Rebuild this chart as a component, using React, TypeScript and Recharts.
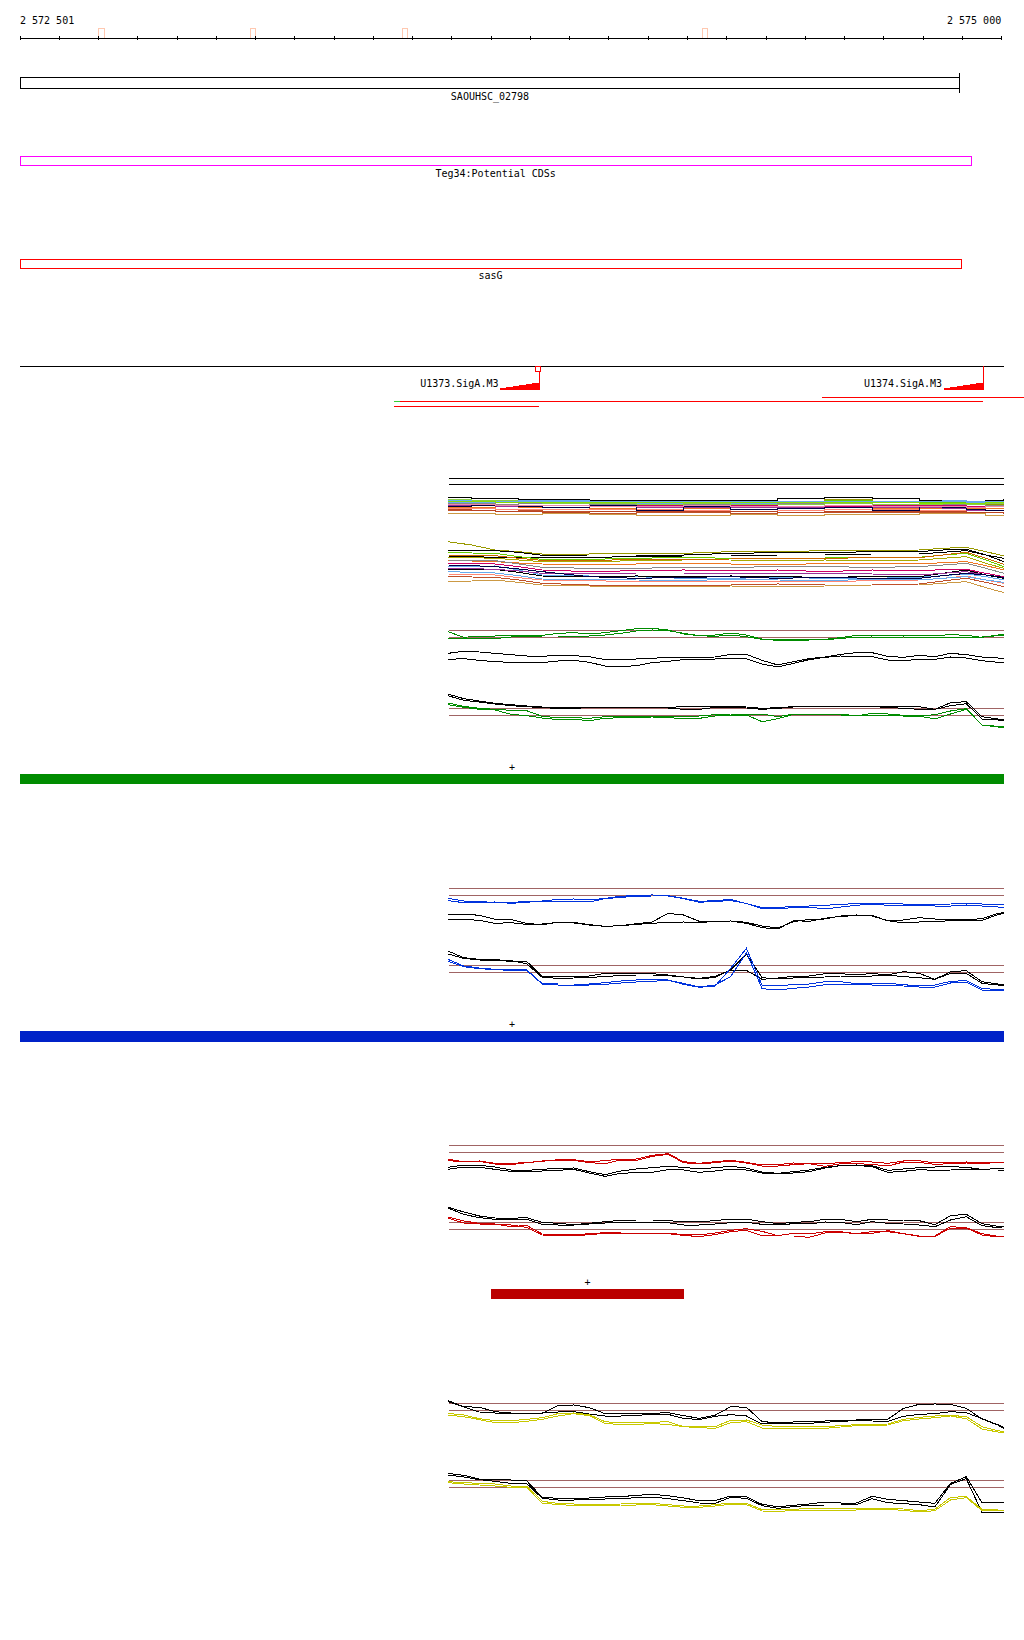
import React from 'react';
import {
  ComposedChart,
  BarChart,
  Bar,
  Line,
  Scatter,
  XAxis,
  YAxis,
  ReferenceLine,
  ReferenceArea,
  LabelList,
} from 'recharts';

// ---------- shared scale ----------
const DOMAIN: [number, number] = [2572500, 2575057];
const W = 1024;
const FONT = "'DejaVu Sans Mono', monospace";
const BROWN = '#a06464';
const MARGIN = { top: 0, right: 0, bottom: 0, left: 20 };

// ---------- ruler ----------
const rulerTicks = [
  2572500, 2572600, 2572700, 2572800, 2572900, 2573000, 2573100, 2573200, 2573300,
  2573400, 2573500, 2573600, 2573700, 2573800, 2573900, 2574000, 2574100, 2574200,
  2574300, 2574400, 2574500, 2574600, 2574700, 2574800, 2574900, 2575000,
];
const rulerStartLabel = '2 572 501';
const rulerEndLabel = '2 575 000';
const rulerStart = 2572500;
const rulerEnd = 2575000;
const markerStarts = [2572701, 2573086, 2573473, 2574237];
const markerEnds = [2572714, 2573101, 2573486, 2574252];

// ---------- annotation features ----------
const featureNames = ['SAOUHSC_02798', 'Teg34:Potential CDSs', 'sasG'];
const featureStarts = [2572500, 2572500, 2572500];
const featureEnds = [2574894, 2574923, 2574897];

// ---------- promoter (TSS) track ----------
const tssNames = ['U1373.SigA.M3', 'U1374.SigA.M3'];
const tssPos = [2573823, 2574953];
const tssSelected = [true, false];
const trackLineRow = 6;
const trackLineStart = 2572500;
const trackLineEnd = 2575006;
const motifSegStarts = [2574543, 2573452, 2573452];
const motifSegEnds = [2575057, 2574953, 2573823];
const motifSegRows = [37, 41, 46];
const motifGreenStart = 2573452;
const motifGreenEnd = 2573468;

// ---------- expression segments (bars) ----------
const segLabels = ['+', '+', '+'];
const segStarts = [2572500, 2572500, 2573700];
const segEnds = [2575006, 2575006, 2574191];

// ---------- signal panels ----------
const PANEL_START = 2573593;
const PANEL_END = 2575006;
const panelPos = [
  2573590, 2573630, 2573670, 2573710, 2573750, 2573790, 2573830, 2573870, 2573910,
  2573950, 2573990, 2574030, 2574070, 2574110, 2574150, 2574190, 2574230, 2574270,
  2574310, 2574350, 2574390, 2574430, 2574470, 2574510, 2574550, 2574590, 2574630,
  2574670, 2574710, 2574750, 2574790, 2574830, 2574870, 2574910, 2574950, 2574990,
  2575006,
];

// green condition
const greenFwdA = [127,110,114,114,115,116,116,122,124,120,124,130,136,137,132,120,115,117,123,117,105,102,104,104,104,109,116,116,114,116,116,115,118,116,110,117,119];
const greenFwdB = [107,107,107,106,111,113,114,114,114,114,117,122,129,132,130,122,115,113,117,112,104,101,101,102,102,107,110,111,108,111,109,109,110,108,111,115,116];
const greenFwdRefA = [62,68,66,62,58,54,53,56,55,52,43,42,45,47,50,50,50,51,59,59,41,27,37,46,51,59,64,64,53,50,56,52,62,58,51,48,47];
const greenFwdRefB = [44,46,41,37,35,34,34,39,41,35,24,22,25,34,38,43,43,45,47,46,30,21,32,43,50,54,53,52,42,40,44,44,51,48,40,35,34];
const greenRevRefA = [108,94,87,80,76,72,69,68,68,68,68,68,68,68,68,70,70,70,70,69,65,67,70,70,70,70,71,71,70,70,70,62,82,85,40,33,32];
const greenRevRefB = [103,89,84,78,73,70,67,65,64,68,68,68,68,68,66,62,62,68,68,66,62,65,69,70,70,70,70,70,68,65,62,62,73,79,33,30,30];
const greenRevA = [81,71,65,62,59,58,41,37,37,35,40,40,40,40,40,39,42,46,48,48,48,40,48,48,48,48,42,50,48,44,42,46,57,64,15,11,10];
const greenRevB = [76,68,62,60,47,43,36,31,32,28,35,37,38,39,38,33,35,42,43,45,25,34,47,46,45,45,42,45,45,42,42,33,48,62,15,9,8];

// blue condition
const blueFwdA = [110,102,100,98,98,100,102,107,108,105,110,116,119,120,118,110,101,103,107,94,82,83,85,87,89,92,94,95,95,93,93,92,93,95,93,91,90];
const blueFwdB = [103,97,98,99,95,98,102,102,101,99,109,113,116,117,117,109,98,101,103,95,79,79,82,84,78,84,89,93,89,89,89,87,87,90,87,84,83];
const blueFwdRefA = [63,63,59,47,47,35,31,38,38,31,26,28,34,39,65,60,41,42,42,38,27,21,40,47,48,57,60,59,42,45,52,48,46,46,49,65,67];
const blueFwdRefB = [47,47,44,35,37,32,33,38,36,30,26,28,32,35,38,39,37,41,42,35,22,18,43,41,50,56,58,57,43,36,39,40,43,44,44,61,65];
const blueRevRefA = [132,112,107,107,100,101,56,55,55,57,65,63,64,64,60,54,50,56,75,74,47,51,56,57,64,64,60,65,60,70,65,47,70,73,40,33,33];
const blueRevRefB = [123,110,105,103,103,94,53,50,51,53,55,59,60,60,58,54,48,53,75,123,52,48,51,53,54,57,57,57,60,55,52,47,65,65,35,30,30];
const blueRevA = [107,87,81,77,76,76,34,33,33,33,37,42,45,46,45,32,23,27,80,140,29,28,31,33,40,40,34,34,35,31,27,30,41,43,19,17,17];
const blueRevB = [101,85,79,76,74,74,33,30,30,30,32,36,39,41,44,35,24,30,55,127,19,15,20,24,31,32,32,30,28,27,24,24,36,39,15,15,15];

// red condition
const redFwdA = [62,55,57,50,50,52,56,61,61,55,58,63,63,74,79,55,50,55,59,53,45,46,51,49,49,52,55,54,50,57,58,51,53,54,52,54,54];
const redFwdB = [58,55,56,48,46,52,57,59,59,52,49,60,59,71,77,52,48,52,57,51,42,42,46,49,41,49,49,47,42,54,53,47,49,51,50,52,52];
const redFwdRefA = [38,45,44,39,30,29,32,35,36,25,16,27,33,37,41,38,33,37,41,36,24,20,25,30,38,43,45,43,29,33,37,39,40,38,32,34,35];
const redFwdRefB = [32,39,38,32,26,24,27,29,32,21,11,20,22,23,31,30,23,27,33,30,21,18,21,25,36,43,44,40,23,26,31,29,30,31,30,30,30];
const redRevRefA = [114,99,87,81,80,82,68,65,61,65,70,74,75,75,73,70,70,73,78,78,70,64,68,70,77,77,70,77,75,75,73,61,88,92,64,56,57];
const redRevRefB = [111,92,82,77,75,77,62,60,60,63,66,67,67,68,67,60,60,63,67,68,62,60,64,63,69,68,61,70,65,63,60,55,75,85,58,52,55];
const redRevA = [84,72,65,63,55,59,33,32,30,34,37,36,35,36,36,31,30,36,44,49,41,28,35,33,40,40,34,40,40,34,27,27,55,52,34,26,27];
const redRevB = [81,66,63,61,60,53,30,29,27,31,35,35,35,35,34,29,25,31,40,44,28,27,27,23,36,37,35,35,43,34,26,26,50,51,30,24,25];

// yellow condition
const yellowFwdRefA = [118,100,98,85,81,80,80,103,105,97,79,78,79,80,82,73,65,74,100,98,55,52,54,55,57,59,60,61,62,95,107,108,107,95,63,45,35];
const yellowFwdRefB = [115,99,84,81,79,79,81,84,85,78,72,72,74,77,77,65,61,71,76,72,48,49,49,50,53,56,58,57,56,71,77,79,85,82,64,46,38];
const yellowFwdA = [80,75,64,58,58,62,67,79,81,76,55,51,52,53,55,40,40,40,59,60,45,40,40,40,40,43,46,47,48,62,68,72,74,70,40,28,25];
const yellowFwdB = [75,70,61,52,52,56,62,72,79,73,50,46,47,49,47,40,37,35,52,55,36,33,34,35,35,39,43,44,45,58,63,67,72,64,33,24,22];
const yellowRevRefA = [125,119,108,106,105,103,53,50,50,51,54,55,59,62,58,51,43,43,57,55,32,25,29,33,39,36,36,56,47,43,39,35,95,115,37,37,37];
const yellowRevRefB = [120,114,106,101,95,95,50,45,45,46,48,49,52,54,49,43,36,35,53,50,28,20,25,29,30,30,31,49,37,34,31,24,92,109,8,8,8];
const yellowRevA = [100,97,95,93,87,87,41,35,33,30,31,33,34,35,31,27,27,31,36,35,16,15,17,20,20,20,20,20,20,18,13,17,53,55,17,15,15];
const yellowRevB = [97,93,90,87,83,83,36,31,29,27,28,30,30,31,27,23,23,27,32,31,12,11,13,15,15,15,15,16,17,14,9,13,45,52,13,12,12];

// thresholds per sub-panel
const greenFwdThr = [131, 110];
const greenRevThr = [64, 44];
const blueFwdThr = [140, 119];
const blueRevThr = [89, 68];
const redFwdThr = [104, 83];
const redRevThr = [68, 47];
const yellowFwdThr = [110, 89];
const yellowRevThr = [104, 83];

// ---------- multi-sample bands ----------
const bandPos = [
  2573590, 2573650, 2573710, 2573770, 2573830, 2573950, 2574070, 2574190, 2574310,
  2574430, 2574550, 2574670, 2574790, 2574850, 2574910, 2574960, 2575006,
];
const bandUpperThr = [125, 107];
const bandUpper = [
  [68,66,65,62,62,60,60,60,60,64,67,64,60,60,57,60,64],
  [60,58,57,57,57,54,52,55,56,57,60,57,54,54,52,54,56],
  [56,58,60,56,53,51,53,51,49,53,63,54,51,50,48,47,46],
  [53,54,55,56,56,51,49,51,51,49,51,53,55,55,54,53,51],
  [49,47,46,45,45,44,43,45,43,42,41,43,44,43,41,42,43],
  [38,39,40,39,38,36,38,36,38,36,38,36,35,35,36,34,33],
  [28,29,31,28,26,21,22,22,21,22,23,24,22,23,24,22,21],
  [35,34,33,33,32,31,32,29,31,29,33,31,29,30,31,30,29],
  [44,43,41,40,39,41,37,39,37,39,37,39,37,34,29,29,29],
  [20,19,17,18,19,17,15,15,17,15,17,18,20,20,20,15,13],
  [42,45,48,42,38,45,28,42,32,36,38,30,42,38,32,30,28],
  [50,49,48,49,50,46,48,46,47,50,54,46,48,47,46,45,44],
  [62,60,59,54,50,49,48,51,47,48,49,47,48,50,46,50,52],
  [31,30,26,25,24,26,27,25,26,24,26,27,26,25,24,23,18],
  [47,46,44,45,43,41,42,43,42,41,44,42,41,40,39,40,38],
  [58,57,56,58,58,55,56,57,55,56,55,56,57,58,56,55,54],
  [55,56,54,53,52,53,54,52,53,54,52,53,51,50,51,52,55],
];
const bandLower = [
  [160,150,135,130,123,123,125,125,130,130,133,133,135,140,143,130,117],
  [135,135,133,128,119,120,120,120,125,127,127,130,130,135,137,120,100],
  [117,115,113,113,113,113,115,117,117,120,120,123,123,128,133,120,110],
  [127,126,125,115,107,107,110,113,110,110,111,113,113,120,125,105,85],
  [113,112,110,105,100,100,103,105,105,103,105,103,105,110,115,95,80],
  [103,102,100,96,93,90,93,95,93,90,95,95,93,97,100,88,75],
  [95,94,93,85,75,70,73,75,73,75,70,75,73,76,77,65,55],
  [85,86,87,75,60,57,55,50,50,53,50,50,53,58,63,55,45],
  [75,76,77,68,57,55,57,55,57,55,53,55,55,65,75,60,50],
  [80,79,77,72,65,65,63,63,65,63,65,63,60,65,70,60,53],
  [55,54,53,45,35,30,30,30,30,33,30,30,33,42,50,38,25],
  [40,42,45,38,30,27,25,25,27,25,27,30,30,35,40,22,7],
  [63,62,60,52,45,43,40,40,40,40,40,43,45,50,57,45,35],
  [90,88,85,78,70,55,50,53,55,50,53,50,50,58,65,60,53],
  [105,104,103,93,83,80,80,83,83,85,85,83,85,90,95,80,65],
  [70,68,66,58,48,46,45,44,46,45,44,46,45,50,55,45,38],
  [120,119,118,110,104,104,106,107,108,110,110,112,112,120,128,110,92],
];
const bandUpperColors = ['#000000','#66cc00','#999900','#66aaee','#cc0066','#ee7722','#c0502a','#ff8877','#993399','#cc9944','#000044','#888888','#88cc44','#bb4422','#ee88aa','#66aaee','#88dd00'];
const bandLowerColors = ['#999900','#000000','#000000','#66cc00','#aaaa00','#ee7722','#cc0066','#66aaee','#000000','#993399','#c0502a','#cc9944','#ff8877','#000044','#888888','#66aaee','#cc6600'];

// ---------- components ----------
type Series = { values: number[]; color: string };

function Abs({ top, height, children }: { top: number; height: number; children: React.ReactNode }) {
  return <div style={{ position: 'absolute', left: 0, top, width: W, height }}>{children}</div>;
}

function SignalChart({ top, height, max, pos, series, refs, refColor, curve = 'linear' }: {
  top: number; height: number; max: number; pos: number[]; series: Series[]; refs: number[]; refColor: string; curve?: any;
}) {
  const rows = pos.map((p, i) => {
    const r: Record<string, number> = { pos: p };
    series.forEach((s, k) => { r['s' + k] = s.values[i]; });
    return r;
  });
  return (
    <Abs top={top} height={height}>
      <ComposedChart width={W} height={height} data={rows} margin={MARGIN}>
        <XAxis type="number" dataKey="pos" domain={DOMAIN} hide />
        <YAxis type="number" domain={[0, max]} hide />
        {refs.map((v, k) => (
          <ReferenceLine key={'r' + k} segment={[{ x: PANEL_START, y: v }, { x: PANEL_END, y: v }]} stroke={refColor} strokeWidth={1} ifOverflow="visible" />
        ))}
        {series.map((s, k) => (
          <Line key={k} type={curve} dataKey={'s' + k} stroke={s.color} strokeWidth={1} dot={false} activeDot={false} isAnimationActive={false} />
        ))}
      </ComposedChart>
    </Abs>
  );
}

function RangeTrack({ top, barHeight, start, end, name, fill, stroke, endTick, labelBelow, labelAbove }: {
  top: number; barHeight: number; start: number; end: number; name: string; fill: string; stroke?: string;
  endTick?: boolean; labelBelow?: boolean; labelAbove?: boolean;
}) {
  const mt = labelAbove ? 13 : 6;
  const mb = 20;
  const h = barHeight + mt + mb;
  const data = [{ cat: 'a', range: [start, end], name }];
  const shape = (p: any) => (
    <g>
      <rect x={p.x} y={p.y} width={p.width} height={p.height} fill={fill} stroke={stroke || 'none'} strokeWidth={1} />
      {endTick ? <line x1={p.x + p.width} x2={p.x + p.width} y1={p.y - 4} y2={p.y + p.height + 4} stroke={stroke} strokeWidth={1} /> : null}
    </g>
  );
  const labelContent = (p: any) => {
    const cx = p.x + p.width / 2;
    const y = labelAbove ? p.y - 3 : p.y + p.height + 11;
    return (
      <text x={cx} y={y} textAnchor="middle" fontFamily={FONT} fontSize={10} fill="#000">{p.value}</text>
    );
  };
  return (
    <Abs top={top - mt} height={h}>
      <BarChart width={W} height={h} data={data} layout="vertical" barCategoryGap={0} margin={{ top: mt, right: 0, bottom: mb, left: 20 }}>
        <XAxis type="number" domain={DOMAIN} hide />
        <YAxis type="category" dataKey="cat" hide />
        <Bar dataKey="range" barSize={barHeight} shape={shape} isAnimationActive={false}>
          {(labelBelow || labelAbove) ? <LabelList dataKey="name" content={labelContent} /> : null}
        </Bar>
      </BarChart>
    </Abs>
  );
}

const RulerTickShape = (p: any) => (
  <line x1={p.cx} x2={p.cx} y1={p.cy - 2} y2={p.cy + 2} stroke="#000" strokeWidth={1} />
);

const TssGlyph = (p: any) => {
  const { cx, cy, payload } = p;
  const base = cy + 23;
  let d = `M ${cx - 39} ${base}`;
  for (let k = 0; k < 6; k++) {
    const x0 = cx - 39 + k * 6.5;
    d += ` L ${x0} ${base - (k + 1)} L ${x0 + 6.5} ${base - (k + 1)}`;
  }
  d += ` L ${cx} ${base} Z`;
  return (
    <g>
      <path d={d} fill="#ff0000" stroke="#ff0000" strokeWidth={1} />
      <line x1={cx} x2={cx} y1={cy} y2={base} stroke="#ff0000" strokeWidth={1} />
      {payload.selected ? <rect x={cx - 4} y={cy} width={5} height={5} fill="#fff" stroke="#ff0000" strokeWidth={1} /> : null}
      <text x={cx - 41} y={cy + 21} textAnchor="end" fontFamily={FONT} fontSize={10} fill="#000">{payload.name}</text>
    </g>
  );
};

const textStyle: React.CSSProperties = {
  position: 'absolute', fontFamily: FONT, fontSize: 10, lineHeight: '12px', color: '#000', whiteSpace: 'pre',
};

export default function App() {
  const tssData = tssNames.map((n, i) => ({ pos: tssPos[i], row: trackLineRow, name: n, selected: tssSelected[i] }));
  const tickData = rulerTicks.map((t) => ({ pos: t, v: 0 }));
  const featureColors = ['#000000', '#ff00ff', '#ff0000'];
  const featureTops = [76, 155, 258];
  const featureHeights = [13, 11, 10];
  const segColors = ['#008c00', '#0022c8', '#bb0000'];
  const segTops = [773, 1030, 1288];
  const segHeights = [11, 12, 11];

  const mk = (vals: number[], color: string): Series => ({ values: vals, color });
  const GREEN = '#008c00';
  const BLUE = '#0033dd';
  const RED = '#cc0000';
  const YEL = '#c8c800';
  const BLK = '#000000';

  return (
    <div style={{ position: 'absolute', left: 0, top: 0, width: W, height: 1640, background: '#fff', overflow: 'hidden' }}>
      <style>{'.recharts-surface path, .recharts-surface line, .recharts-surface rect { shape-rendering: crispEdges; }'}</style>

      {/* ruler */}
      <div style={{ ...textStyle, left: 20, top: 15 }}>{rulerStartLabel}</div>
      <div style={{ ...textStyle, left: 947, top: 15 }}>{rulerEndLabel}</div>
      <Abs top={0} height={50}>
        <ComposedChart width={W} height={50} margin={{ top: 0, right: 0, bottom: 12, left: 20 }}>
          <XAxis type="number" dataKey="pos" domain={DOMAIN} hide />
          <YAxis type="number" dataKey="v" domain={[0, 38]} hide />
          {markerStarts.map((s, i) => (
            <ReferenceArea key={i} x1={s} x2={markerEnds[i]} y1={0} y2={10} stroke="#ffc8b0" fill="#ffffff" fillOpacity={1} strokeWidth={1} />
          ))}
          <Line data={[{ pos: rulerStart, v: 0 }, { pos: rulerEnd, v: 0 }]} dataKey="v" stroke="#000" strokeWidth={1} dot={false} activeDot={false} isAnimationActive={false} />
          <Scatter data={tickData} dataKey="v" shape={RulerTickShape} isAnimationActive={false} />
        </ComposedChart>
      </Abs>

      {/* annotation features */}
      {featureNames.map((n, i) => (
        <RangeTrack key={n} top={featureTops[i]} barHeight={featureHeights[i]} start={featureStarts[i]} end={featureEnds[i]} name={n}
          fill="#ffffff" stroke={featureColors[i]} endTick={i === 0} labelBelow />
      ))}

      {/* promoter track */}
      <Abs top={360} height={52}>
        <ComposedChart width={W} height={52} margin={MARGIN}>
          <XAxis type="number" dataKey="pos" domain={DOMAIN} hide />
          <YAxis type="number" dataKey="row" domain={[0, 52]} reversed hide />
          <Line data={[{ pos: trackLineStart, row: trackLineRow }, { pos: trackLineEnd, row: trackLineRow }]} dataKey="row" stroke="#000" strokeWidth={1} dot={false} activeDot={false} isAnimationActive={false} />
          {motifSegStarts.map((s, i) => (
            <Line key={'m' + i} data={[{ pos: s, row: motifSegRows[i] }, { pos: motifSegEnds[i], row: motifSegRows[i] }]} dataKey="row" stroke="#ff0000" strokeWidth={1} dot={false} activeDot={false} isAnimationActive={false} />
          ))}
          <Line data={[{ pos: motifGreenStart, row: motifSegRows[1] }, { pos: motifGreenEnd, row: motifSegRows[1] }]} dataKey="row" stroke="#33cc33" strokeWidth={1} dot={false} activeDot={false} isAnimationActive={false} />
          <Scatter data={tssData} dataKey="row" shape={TssGlyph} isAnimationActive={false} />
        </ComposedChart>
      </Abs>

      {/* multi-sample bands */}
      <SignalChart top={475} height={45} max={135} pos={bandPos} refs={bandUpperThr} refColor="#000000" curve="stepAfter"
        series={bandUpper.map((v, k) => mk(v, bandUpperColors[k]))} />
      <SignalChart top={540} height={55} max={165} pos={bandPos} refs={[]} refColor="#000000"
        series={bandLower.map((v, k) => mk(v, bandLowerColors[k]))} />

      {/* green condition */}
      <SignalChart top={624} height={50} max={150} pos={panelPos} refs={greenFwdThr} refColor={BROWN}
        series={[mk(greenFwdRefA, BLK), mk(greenFwdRefB, BLK), mk(greenFwdA, GREEN), mk(greenFwdB, GREEN)]} />
      <SignalChart top={690} height={40} max={120} pos={panelPos} refs={greenRevThr} refColor={BROWN}
        series={[mk(greenRevRefA, BLK), mk(greenRevRefB, BLK), mk(greenRevA, GREEN), mk(greenRevB, GREEN)]} />
      <RangeTrack top={segTops[0]} barHeight={segHeights[0]} start={segStarts[0]} end={segEnds[0]} name={segLabels[0]} fill={segColors[0]} labelAbove />

      {/* blue condition */}
      <SignalChart top={885} height={50} max={150} pos={panelPos} refs={blueFwdThr} refColor={BROWN}
        series={[mk(blueFwdRefA, BLK), mk(blueFwdRefB, BLK), mk(blueFwdA, BLUE), mk(blueFwdB, BLUE)]} />
      <SignalChart top={945} height={50} max={150} pos={panelPos} refs={blueRevThr} refColor={BROWN}
        series={[mk(blueRevRefA, BLK), mk(blueRevRefB, BLK), mk(blueRevA, BLUE), mk(blueRevB, BLUE)]} />
      <RangeTrack top={segTops[1]} barHeight={segHeights[1]} start={segStarts[1]} end={segEnds[1]} name={segLabels[1]} fill={segColors[1]} labelAbove />

      {/* red condition */}
      <SignalChart top={1140} height={40} max={120} pos={panelPos} refs={redFwdThr} refColor={BROWN}
        series={[mk(redFwdRefA, BLK), mk(redFwdRefB, BLK), mk(redFwdA, RED), mk(redFwdB, RED)]} />
      <SignalChart top={1200} height={45} max={135} pos={panelPos} refs={redRevThr} refColor={BROWN}
        series={[mk(redRevRefA, BLK), mk(redRevRefB, BLK), mk(redRevA, RED), mk(redRevB, RED)]} />
      <RangeTrack top={segTops[2]} barHeight={segHeights[2]} start={segStarts[2]} end={segEnds[2]} name={segLabels[2]} fill={segColors[2]} labelAbove />

      {/* yellow condition */}
      <SignalChart top={1395} height={45} max={135} pos={panelPos} refs={yellowFwdThr} refColor={BROWN}
        series={[mk(yellowFwdRefA, BLK), mk(yellowFwdRefB, BLK), mk(yellowFwdA, YEL), mk(yellowFwdB, YEL)]} />
      <SignalChart top={1465} height={50} max={150} pos={panelPos} refs={yellowRevThr} refColor={BROWN}
        series={[mk(yellowRevRefA, BLK), mk(yellowRevRefB, BLK), mk(yellowRevA, YEL), mk(yellowRevB, YEL)]} />
    </div>
  );
}
